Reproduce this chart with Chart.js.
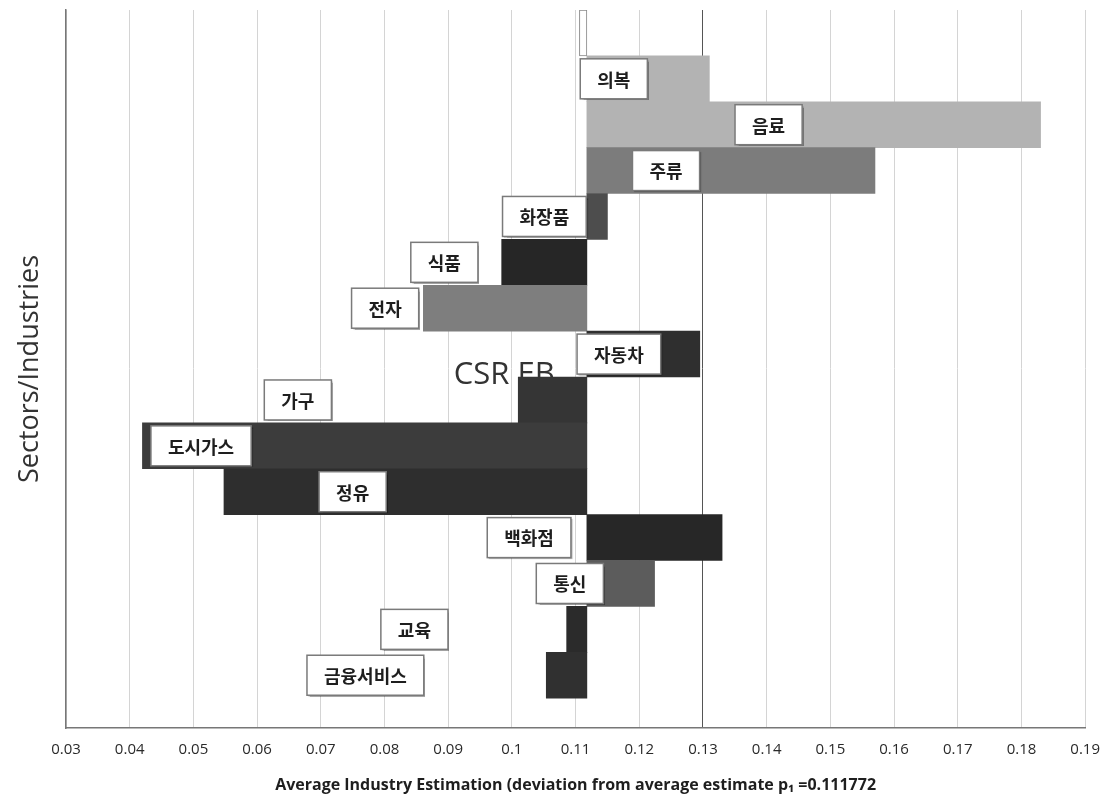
<!DOCTYPE html>
<html>
<head>
<meta charset="utf-8">
<script src="https://cdn.jsdelivr.net/npm/chart.js@4"></script>
<style>
  html, body { margin: 0; padding: 0; background: #fff; }
  #wrap { width: 1113px; height: 811px; }
</style>
</head>
<body>
<div id="wrap"><canvas id="csrChart"></canvas></div>
<script>
// average estimate that every bar starts from
const baseline = 0.111772;

const sectors = ['의복', '음료', '주류', '화장품', '식품', '전자', '자동차', '가구', '도시가스', '정유', '백화점', '통신', '교육', '금융서비스'];
const estimates = [0.131, 0.183, 0.157, 0.115, 0.0984, 0.0861, 0.1295, 0.101, 0.042, 0.0548, 0.133, 0.1224, 0.1086, 0.1054];

// thin empty bar above the first sector
const markerValue = 0.1106;

const xTicks = [0.03, 0.19, 0.01]; // min, max, step

// where each name box sits along the x axis
const labelAt = [0.1160, 0.1403, 0.1242, 0.1051, 0.0894, 0.0801, 0.1168, 0.0664, 0.0512, 0.0750, 0.1027, 0.1091, 0.0847, 0.0770];

const shades = ['#b3b3b3', '#b3b3b3', '#7c7c7c', '#4d4d4d', '#262626', '#7e7e7e', '#2f2f2f', '#353535', '#3c3c3c', '#2e2e2e', '#272727', '#5c5c5c', '#2b2b2b', '#303030'];

const boxLabels = {
  id: 'boxLabels',
  beforeDatasetsDraw(chart) {
    const { ctx, scales: { x, y } } = chart;
    ctx.save();
    ctx.font = '31px "Open Sans"';
    ctx.fillStyle = '#333';
    ctx.textAlign = 'center';
    ctx.textBaseline = 'middle';
    ctx.fillText('CSR EB', x.getPixelForValue(0.0988), y.getPixelForValue(6.45));
    ctx.restore();
  },
  afterDatasetsDraw(chart) {
    const { ctx, scales: { x, y } } = chart;
    ctx.save();
    ctx.font = 'bold 18px "Noto Sans CJK KR"';
    ctx.textAlign = 'center';
    ctx.textBaseline = 'middle';
    sectors.forEach((name, i) => {
      const cx = x.getPixelForValue(labelAt[i]);
      const cy = y.getPixelForValue(i);
      const w = ctx.measureText(name).width + 34;
      const h = 40;
      ctx.shadowColor = 'rgba(0,0,0,0.35)';
      ctx.shadowOffsetX = 1.5;
      ctx.shadowOffsetY = 1.5;
      ctx.shadowBlur = 1;
      ctx.fillStyle = '#fff';
      ctx.fillRect(cx - w / 2, cy - h / 2, w, h);
      ctx.shadowColor = 'transparent';
      ctx.strokeStyle = '#7a7a7a';
      ctx.lineWidth = 1.5;
      ctx.strokeRect(cx - w / 2, cy - h / 2, w, h);
      ctx.fillStyle = '#1e1e1e';
      ctx.fillText(name, cx, cy + 1);
    });
    ctx.restore();
  }
};

new Chart(document.getElementById('csrChart'), {
  type: 'bar',
  data: {
    datasets: [{
      data: sectors.map((s, i) => ({ y: i, x: [baseline, estimates[i]] })),
      backgroundColor: shades,
      borderWidth: 0,
      grouped: false,
      barPercentage: 1,
      categoryPercentage: 1
    }, {
      data: [{ y: -1, x: [markerValue, baseline] }],
      backgroundColor: '#fff',
      borderColor: '#8a8a8a',
      borderWidth: 1,
      borderSkipped: false,
      grouped: false,
      barPercentage: 1,
      categoryPercentage: 1
    }]
  },
  options: {
    indexAxis: 'y',
    responsive: true,
    maintainAspectRatio: false,
    animation: false,
    layout: { padding: { top: 10, right: 26, left: 0, bottom: 0 } },
    plugins: { legend: { display: false }, tooltip: { enabled: false } },
    scales: {
      x: {
        type: 'linear',
        min: xTicks[0],
        max: xTicks[1],
        afterFit(scale) { scale.height = 83; },
        ticks: {
          stepSize: xTicks[2],
          padding: 13,
          color: '#2a2a2a',
          font: { family: 'Open Sans', size: 15 },
          callback: v => parseFloat(v.toFixed(2)).toString()
        },
        grid: {
          drawTicks: false,
          color: c => (c.tick && Math.abs(c.tick.value - 0.13) < 1e-6) ? '#555' : '#d4d4d4'
        },
        border: { display: true, color: '#777', width: 1.5 },
        title: {
          display: true,
          text: 'Average Industry Estimation (deviation from average estimate p₁ =0.111772',
          color: '#1e1e1e',
          font: { family: 'Open Sans', size: 16, weight: 'bold' },
          padding: { top: 0, bottom: 16 }
        }
      },
      y: {
        type: 'linear',
        min: -1.5,
        max: 14.15,
        reverse: true,
        offset: false,
        afterFit(scale) { scale.width = 66; },
        ticks: { display: false },
        grid: { display: false, drawTicks: false, offset: false },
        border: { display: true, color: '#777', width: 1.5 },
        title: {
          display: true,
          text: 'Sectors/Industries',
          color: '#333',
          font: { family: 'Open Sans', size: 27 },
          padding: { top: 14, bottom: 0 }
        }
      }
    }
  },
  plugins: [boxLabels]
});
</script>
</body>
</html>
